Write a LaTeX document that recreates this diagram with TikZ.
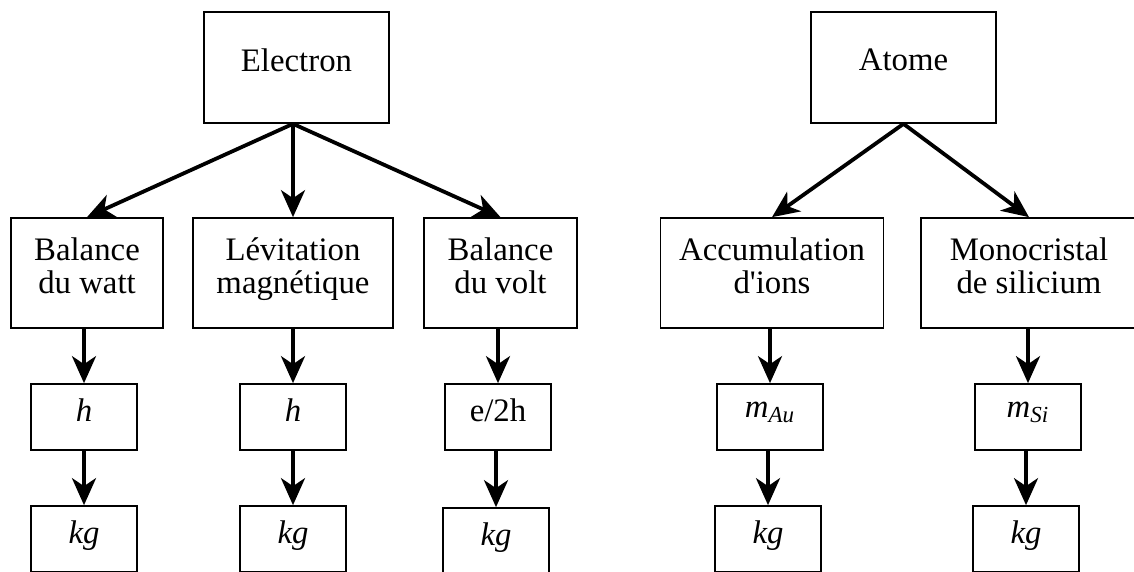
\documentclass[tikz,border=0pt]{standalone}
\usepackage{fontspec}
\setmainfont{Liberation Serif}
\usetikzlibrary{arrows.meta}

\begin{document}
\begin{tikzpicture}[x=0.5pt, y=-0.5pt,
every node/.style={font=\fontsize{16.4}{16.7}\selectfont},
box/.style={draw, line width=0.85pt, inner sep=0pt, align=center, text depth=7.5pt},
topbox/.style={box, minimum width=92.5pt, minimum height=55.5pt},
midbox/.style={box, minimum height=55pt},
smallbox/.style={box, minimum width=53pt, minimum height=33pt, text depth=7pt},
arr/.style={line width=1.9pt, -{Stealth[length=13.5pt, width=12pt, inset=4pt]}}]

\clip (0,0) rectangle (1134,572);

\node[topbox] (elec) at (296.5,67.5) {Electron};
\node[topbox] (atome) at (903.5,67.5) {Atome};

\node[midbox, minimum width=76pt] (watt) at (87,273) {Balance\\du watt};
\node[midbox, minimum width=100pt] (lev) at (293,273) {Lévitation\\magnétique};
\node[midbox, minimum width=76.5pt] (volt) at (500.5,273) {Balance\\du volt};
\node[midbox, minimum width=111.5pt] (accu) at (772,273) {Accumulation\\d\textquotesingle ions};
\node[midbox, minimum width=108pt] (mono) at (1029,273) {Monocristal\\de silicium};

\node[smallbox] (h1) at (84,417) {\textit{h}};
\node[smallbox] (h2) at (293,417) {\textit{h}};
\node[smallbox] (e2h) at (498,417) {e/2h};
\node[smallbox] (mau) at (770,417) {\textit{m}\textsubscript{\textit{Au}}};
\node[smallbox] (msi) at (1028,417) {\textit{m}\textsubscript{\textit{Si}}};

\node[smallbox] (kg1) at (84,539) {\textit{kg}};
\node[smallbox] (kg2) at (293,539) {\textit{kg}};
\node[smallbox] (kg3) at (496,541) {\textit{kg}};
\node[smallbox] (kg4) at (768,539) {\textit{kg}};
\node[smallbox] (kg5) at (1026,539) {\textit{kg}};

\coordinate (efork) at (elec.south -| lev.north);
\coordinate (afork) at (atome.south);

\draw[arr] (efork) -- (watt.north);
\draw[arr] (efork) -- (lev.north);
\draw[arr] (efork) -- (volt.north);
\draw[arr] (afork) -- (accu.north);
\draw[arr] (afork) -- (mono.north);

\draw[arr] (watt.south -| h1.north) -- (h1.north);
\draw[arr] (lev.south -| h2.north) -- (h2.north);
\draw[arr] (volt.south -| e2h.north) -- (e2h.north);
\draw[arr] (accu.south -| mau.north) -- (mau.north);
\draw[arr] (mono.south -| msi.north) -- (msi.north);

\draw[arr] (h1.south -| kg1.north) -- (kg1.north);
\draw[arr] (h2.south -| kg2.north) -- (kg2.north);
\draw[arr] (e2h.south -| kg3.north) -- (kg3.north);
\draw[arr] (mau.south -| kg4.north) -- (kg4.north);
\draw[arr] (msi.south -| kg5.north) -- (kg5.north);

\end{tikzpicture}
\end{document}
